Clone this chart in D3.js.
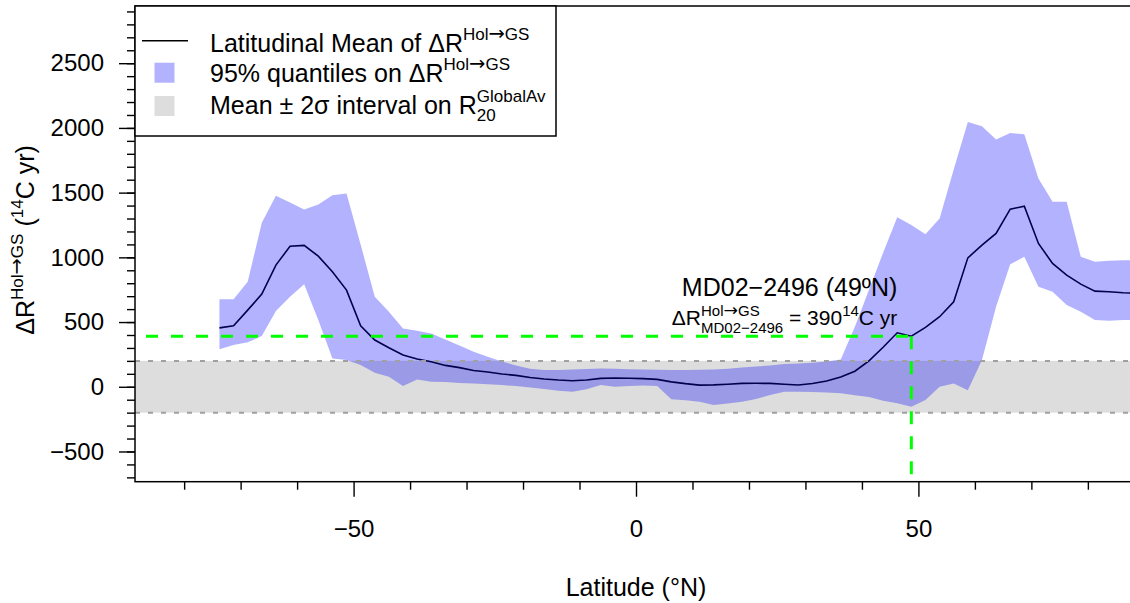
<!DOCTYPE html>
<html>
<head>
<meta charset="utf-8">
<script src="https://cdn.jsdelivr.net/npm/d3@7"></script>
<style>
  html, body { margin: 0; padding: 0; background: #fff; }
  svg text { font-family: "Liberation Sans", Arial, Helvetica, sans-serif; fill: #000; white-space: pre; }
</style>
</head>
<body>
<svg id="chart" width="1130" height="603"></svg>
<script>
// ---------------- data ----------------
const lat = [-73.75,-71.25,-68.75,-66.25,-63.75,-61.25,-58.75,-56.25,-53.75,-51.25,
  -48.75,-46.25,-43.75,-41.25,-38.75,-36.25,-33.75,-31.25,-28.75,-26.25,
  -23.75,-21.25,-18.75,-16.25,-13.75,-11.25,-8.75,-6.25,-3.75,-1.25,
  1.25,3.75,6.25,8.75,11.25,13.75,16.25,18.75,21.25,23.75,
  26.25,28.75,31.25,33.75,36.25,38.75,41.25,43.75,46.25,48.75,
  51.25,53.75,56.25,58.75,61.25,63.75,66.25,68.75,71.25,73.75,
  76.25,78.75,81.25,83.75,86.25,88.75];

const meanDR = [455,471,592,716,940,1086,1092,1009,888,747,
  471,361,301,245,214,193,165,148,126,114,
  99,88,72,60,52,47,52,65,68,66,
  63,57,38,24,13,15,20,26,27,26,
  20,14,25,45,75,120,200,305,417,391,
  459,541,657,996,1094,1185,1372,1395,1107,953,
  862,793,739,734,726,724];

const q025 = [289,322,343,392,585,695,793,515,219,206,
  168,108,77,5,57,39,36,30,25,20,
  13,5,-5,-18,-30,-39,-20,13,0,5,
  10,5,-97,-105,-116,-141,-130,-116,-95,-64,
  -39,-39,-40,-45,-51,-65,-80,-108,-128,-154,
  -103,0,26,-26,206,618,947,1004,772,734,
  631,579,515,510,515,515];

const q975 = [677,677,811,1267,1475,1424,1370,1408,1480,1493,
  1099,695,579,451,432,412,366,318,270,232,
  195,165,140,130,130,133,138,142,140,136,
  134,132,130,129,131,134,140,148,156,165,
  175,180,185,195,211,463,749,1035,1310,1249,
  1179,1300,1679,2046,2013,1910,1961,1951,1609,1429,
  1429,1004,965,973,978,978];

const globalBand = [-200, 200];        // mean ± 2σ on R20 GlobalAv
const siteLat = 48.75;                 // MD02-2496 (49ºN)
const siteDR = 390;

const yMajor = [-500, 0, 500, 1000, 1500, 2000, 2500];
const yMinor = d3.range(-700, 2901, 100);
const xMajor = [-50, 0, 50];
const xMinor = [-80,-70,-60,-40,-30,-20,-10,10,20,30,40,60,70,80];

// ---------------- layout ----------------
const svg = d3.select("#chart");
const L = 135, R = 1137, T = 6, B = 481.7;
const x = d3.scaleLinear().domain([-88.7, 88.7]).range([L, R]);
const y = d3.scaleLinear().domain([-733.5, 2942]).range([B, T]);

svg.append("defs").append("clipPath").attr("id", "clip")
  .append("rect").attr("x", L).attr("y", T).attr("width", R - L).attr("height", B - T);

const plot = svg.append("g").attr("clip-path", "url(#clip)");

// grey band
plot.append("rect")
  .attr("x", L).attr("width", R - L)
  .attr("y", y(globalBand[1])).attr("height", y(globalBand[0]) - y(globalBand[1]))
  .attr("fill", "#dddddd");

// mean line (under translucent blue)
const data = lat.map((d, i) => ({lat: d, m: meanDR[i], lo: q025[i], hi: q975[i]}));
plot.append("path").datum(data)
  .attr("d", d3.line().x(d => x(d.lat)).y(d => y(d.m)))
  .attr("fill", "none").attr("stroke", "#000").attr("stroke-width", 1.6);

// quantile band
plot.append("path").datum(data)
  .attr("d", d3.area().x(d => x(d.lat)).y0(d => y(d.lo)).y1(d => y(d.hi)))
  .attr("fill", "rgb(0,0,255)").attr("fill-opacity", 0.3);

// dashed band limits
globalBand.forEach(v => {
  plot.append("line").attr("x1", L).attr("x2", R).attr("y1", y(v)).attr("y2", y(v))
    .attr("stroke", "#a0a0a0").attr("stroke-width", 2).attr("stroke-dasharray", "5,8");
});

// green site lines
plot.append("line")
  .attr("x1", L).attr("x2", x(siteLat)).attr("y1", y(siteDR)).attr("y2", y(siteDR))
  .attr("stroke", "#00ff00").attr("stroke-width", 3).attr("stroke-dasharray", "12,13").attr("stroke-dashoffset", 14);
plot.append("line")
  .attr("x1", x(siteLat)).attr("x2", x(siteLat)).attr("y1", y(siteDR)).attr("y2", B)
  .attr("stroke", "#00ff00").attr("stroke-width", 3).attr("stroke-dasharray", "13,12");

// ---------------- axes ----------------
function styleAxis(g) {
  g.select(".domain").remove();
  g.selectAll("line").attr("stroke", "#000").attr("stroke-width", 1.4);
}
const fmt = d => d < 0 ? "\u2212" + Math.abs(d) : String(d);
svg.append("g").attr("transform", `translate(${L},0)`)
  .call(d3.axisLeft(y).tickValues(yMinor).tickSize(8).tickFormat(""))
  .call(styleAxis);
const ya = svg.append("g").attr("transform", `translate(${L},0)`)
  .call(d3.axisLeft(y).tickValues(yMajor).tickSize(16).tickPadding(15).tickFormat(fmt))
  .call(styleAxis);
ya.selectAll("text").style("font-size", "24px").style("font-family", null);

svg.append("g").attr("transform", `translate(0,${B})`)
  .call(d3.axisBottom(x).tickValues(xMinor).tickSize(8).tickFormat(""))
  .call(styleAxis);
const xa = svg.append("g").attr("transform", `translate(0,${B})`)
  .call(d3.axisBottom(x).tickValues(xMajor).tickSize(15).tickFormat(fmt))
  .call(styleAxis);
xa.selectAll("text").attr("y", 55).attr("dy", 0).style("font-size", "24px").style("font-family", null);

// box
svg.append("rect").attr("x", L).attr("y", T).attr("width", R - L).attr("height", B - T)
  .attr("fill", "none").attr("stroke", "#000").attr("stroke-width", 1.5);

// ---------------- rich text helper ----------------
// parts: {t, fs, dy, fam} or {stack: [partsA, partsB]}
function seq(g, parts, x0) {
  let cx = x0;
  parts.forEach(p => {
    if (p.stack) {
      const w = Math.max(...p.stack.map(s => seq(g, s, cx)));
      cx += w;
    } else {
      const t = g.append("text").attr("x", cx).attr("y", p.dy || 0)
        .style("font-size", p.fs + "px").text(p.t);
      if (p.fam) t.style("font-family", p.fam);
      cx += t.node().getComputedTextLength();
    }
  });
  return cx - x0;
}
function rich(parent, parts, anchor) {
  const g = parent.append("g");
  const w = seq(g, parts, 0);
  const shift = anchor === "middle" ? -w / 2 : anchor === "end" ? -w : 0;
  g.attr("transform", `translate(${shift},0)`);
  return g;
}
const holGS = (fs, dy) => [
  {t: "Hol", fs: fs, dy: dy},
  {t: "\u2192", fs: fs * 1.15, dy: dy, fam: '"DejaVu Sans", sans-serif'},
  {t: "GS", fs: fs, dy: dy}
];

// axis titles
svg.append("text").attr("x", x(0)).attr("y", 596).attr("text-anchor", "middle")
  .style("font-size", "25px").text("Latitude (\u00B0N)");

const yt = svg.append("g").attr("transform", `translate(34,240) rotate(-90)`);
rich(yt, [
  {t: "\u0394R", fs: 25},
  ...holGS(17, -11),
  {t: " (", fs: 25},
  {t: "14", fs: 17, dy: -11},
  {t: "C yr)", fs: 25}
], "middle");

// annotation
const ann1 = svg.append("g").attr("transform", `translate(${x(siteLat) - 14},296)`);
rich(ann1, [{t: "MD02\u22122496 (49\u00BAN)", fs: 25}], "end");
const ann2 = svg.append("g").attr("transform", `translate(${x(siteLat) - 14},325)`);
rich(ann2, [
  {t: "\u0394R", fs: 21},
  {stack: [holGS(15, -9), [{t: "MD02\u22122496", fs: 15, dy: 8}]]},
  {t: " = 390", fs: 21},
  {t: "14", fs: 15, dy: -9},
  {t: "C yr", fs: 21}
], "end");

// ---------------- legend ----------------
const leg = svg.append("g");
leg.append("rect").attr("x", L).attr("y", T).attr("width", 421).attr("height", 130)
  .attr("fill", "#fff").attr("stroke", "#000").attr("stroke-width", 1.5);
leg.append("line").attr("x1", 142).attr("x2", 188).attr("y1", 40.7).attr("y2", 40.7)
  .attr("stroke", "#000").attr("stroke-width", 1.6);
leg.append("rect").attr("x", 154.5).attr("y", 62.7).attr("width", 20).attr("height", 20)
  .attr("fill", "rgb(0,0,255)").attr("fill-opacity", 0.3);
leg.append("rect").attr("x", 154.5).attr("y", 96).attr("width", 20).attr("height", 20)
  .attr("fill", "#dddddd");

const r1 = leg.append("g").attr("transform", "translate(210,51.5)");
rich(r1, [{t: "Latitudinal Mean of \u0394R", fs: 25}, ...holGS(17, -12)], "start");
const r2 = leg.append("g").attr("transform", "translate(210,82)");
rich(r2, [{t: "95% quantiles on \u0394R", fs: 25}, ...holGS(17, -12)], "start");
const r3 = leg.append("g").attr("transform", "translate(210,113.5)");
rich(r3, [
  {t: "Mean \u00B1 2\u03C3 interval on R", fs: 25},
  {stack: [[{t: "GlobalAv", fs: 17, dy: -12}], [{t: "20", fs: 17, dy: 7}]]}
], "start");
</script>
</body>
</html>
